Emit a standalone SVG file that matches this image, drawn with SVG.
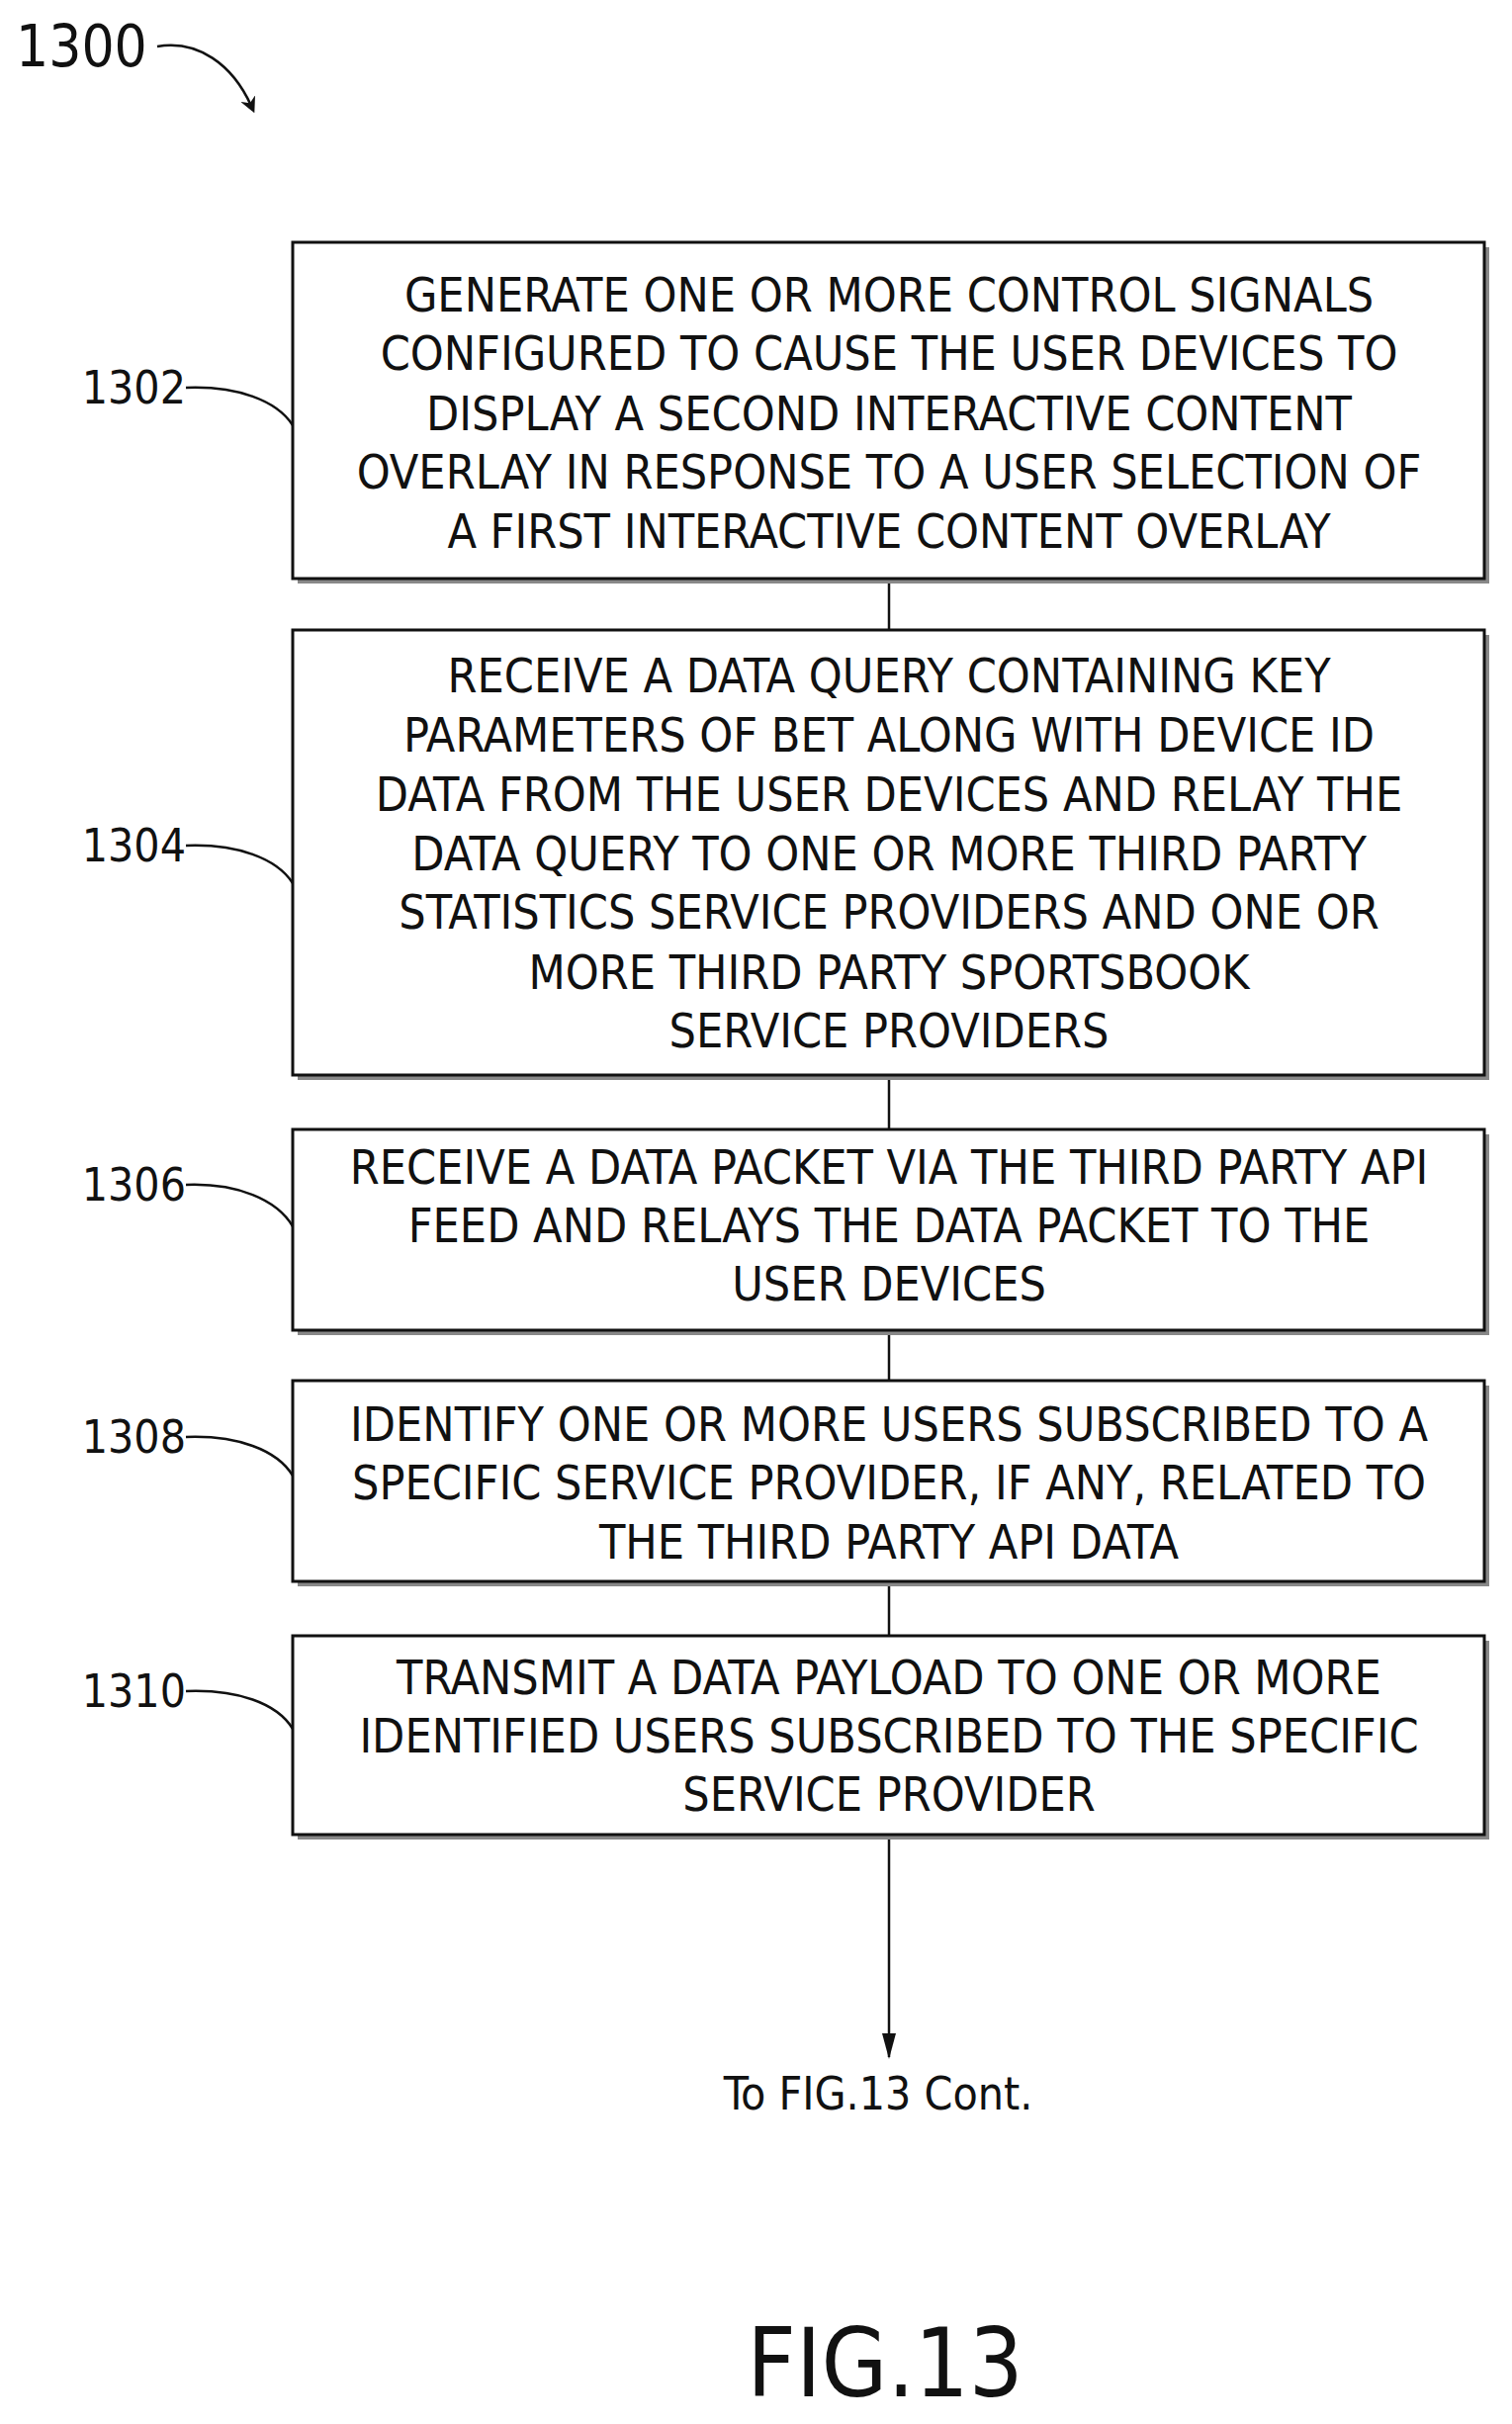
<svg xmlns="http://www.w3.org/2000/svg" width="1529" height="2451" viewBox="0 0 1529 2451">
<style>
.t{font-family:"DejaVu Sans Condensed","DejaVu Sans",sans-serif;font-size:48px;fill:#111;text-anchor:middle;dominant-baseline:central}
.l{font-family:"DejaVu Sans Condensed","DejaVu Sans",sans-serif;font-size:46px;fill:#111;dominant-baseline:central;text-anchor:end}
.box{fill:#fff;stroke:#111;stroke-width:3}
.sh{fill:#888}
.ln{fill:none;stroke:#111;stroke-width:2.5}
</style>
<defs>
<marker id="ah" markerWidth="26" markerHeight="14" refX="24" refY="7" orient="auto" markerUnits="userSpaceOnUse" viewBox="0 0 26 14"><path d="M0,0 L26,7 L0,14 Z" fill="#111"/></marker>
<marker id="ah2" markerWidth="16" markerHeight="16" refX="8" refY="8" orient="auto" markerUnits="userSpaceOnUse" viewBox="0 0 16 16"><path d="M0,0 L16,8 L0,16 L5,8 Z" fill="#111"/></marker>
</defs>
<text x="16" y="47" style="font-family:'DejaVu Sans Condensed','DejaVu Sans',sans-serif;font-size:58px;fill:#111;dominant-baseline:central">1300</text>
<path class="ln" d="M159,47 C200,40 235,65 254,107" marker-end="url(#ah2)"/>
<g id="connectors">
<line class="ln" x1="899" y1="585" x2="899" y2="637"/>
<line class="ln" x1="899" y1="1087" x2="899" y2="1142"/>
<line class="ln" x1="899" y1="1345" x2="899" y2="1396"/>
<line class="ln" x1="899" y1="1599" x2="899" y2="1654"/>
<line class="ln" x1="899" y1="1855" x2="899" y2="2080" marker-end="url(#ah)"/>
</g>
<g id="n1302">
<rect class="sh" x="301" y="250" width="1205" height="340"/>
<rect class="box" x="296" y="245" width="1205" height="340"/>
<text class="t" x="899" y="298">GENERATE ONE OR MORE CONTROL SIGNALS</text>
<text class="t" x="899" y="357">CONFIGURED TO CAUSE THE USER DEVICES TO</text>
<text class="t" x="899" y="418">DISPLAY A SECOND INTERACTIVE CONTENT</text>
<text class="t" x="899" y="477">OVERLAY IN RESPONSE TO A USER SELECTION OF</text>
<text class="t" x="899" y="537">A FIRST INTERACTIVE CONTENT OVERLAY</text>
<text class="l" x="188" y="392">1302</text>
<path class="ln" d="M188,392 C240,390 280,405 296,430"/>
</g>
<g id="n1304">
<rect class="sh" x="301" y="642" width="1205" height="450"/>
<rect class="box" x="296" y="637" width="1205" height="450"/>
<text class="t" x="899" y="683">RECEIVE A DATA QUERY CONTAINING KEY</text>
<text class="t" x="899" y="743">PARAMETERS OF BET ALONG WITH DEVICE ID</text>
<text class="t" x="899" y="803">DATA FROM THE USER DEVICES AND RELAY THE</text>
<text class="t" x="899" y="863">DATA QUERY TO ONE OR MORE THIRD PARTY</text>
<text class="t" x="899" y="922">STATISTICS SERVICE PROVIDERS AND ONE OR</text>
<text class="t" x="899" y="983">MORE THIRD PARTY SPORTSBOOK</text>
<text class="t" x="899" y="1042">SERVICE PROVIDERS</text>
<text class="l" x="188" y="855">1304</text>
<path class="ln" d="M188,855 C240,853 280,868 296,893"/>
</g>
<g id="n1306">
<rect class="sh" x="301" y="1147" width="1205" height="203"/>
<rect class="box" x="296" y="1142" width="1205" height="203"/>
<text class="t" x="899" y="1180">RECEIVE A DATA PACKET VIA THE THIRD PARTY API</text>
<text class="t" x="899" y="1239">FEED AND RELAYS THE DATA PACKET TO THE</text>
<text class="t" x="899" y="1298">USER DEVICES</text>
<text class="l" x="188" y="1198">1306</text>
<path class="ln" d="M188,1198 C240,1196 280,1213 296,1240"/>
</g>
<g id="n1308">
<rect class="sh" x="301" y="1401" width="1205" height="203"/>
<rect class="box" x="296" y="1396" width="1205" height="203"/>
<text class="t" x="899" y="1440">IDENTIFY ONE OR MORE USERS SUBSCRIBED TO A</text>
<text class="t" x="899" y="1499">SPECIFIC SERVICE PROVIDER, IF ANY, RELATED TO</text>
<text class="t" x="899" y="1559">THE THIRD PARTY API DATA</text>
<text class="l" x="188" y="1453">1308</text>
<path class="ln" d="M188,1453 C240,1451 280,1466 296,1492"/>
</g>
<g id="n1310">
<rect class="sh" x="301" y="1659" width="1205" height="201"/>
<rect class="box" x="296" y="1654" width="1205" height="201"/>
<text class="t" x="899" y="1696">TRANSMIT A DATA PAYLOAD TO ONE OR MORE</text>
<text class="t" x="899" y="1755">IDENTIFIED USERS SUBSCRIBED TO THE SPECIFIC</text>
<text class="t" x="899" y="1814">SERVICE PROVIDER</text>
<text class="l" x="188" y="1710">1310</text>
<path class="ln" d="M188,1710 C240,1708 280,1722 296,1748"/>
</g>
<text class="t" x="888" y="2117" style="font-size:46px">To FIG.13 Cont.</text>
<text x="895" y="2423" style="font-family:'DejaVu Sans Condensed','DejaVu Sans',sans-serif;font-size:96px;fill:#111;text-anchor:middle">FIG.13</text>
</svg>
